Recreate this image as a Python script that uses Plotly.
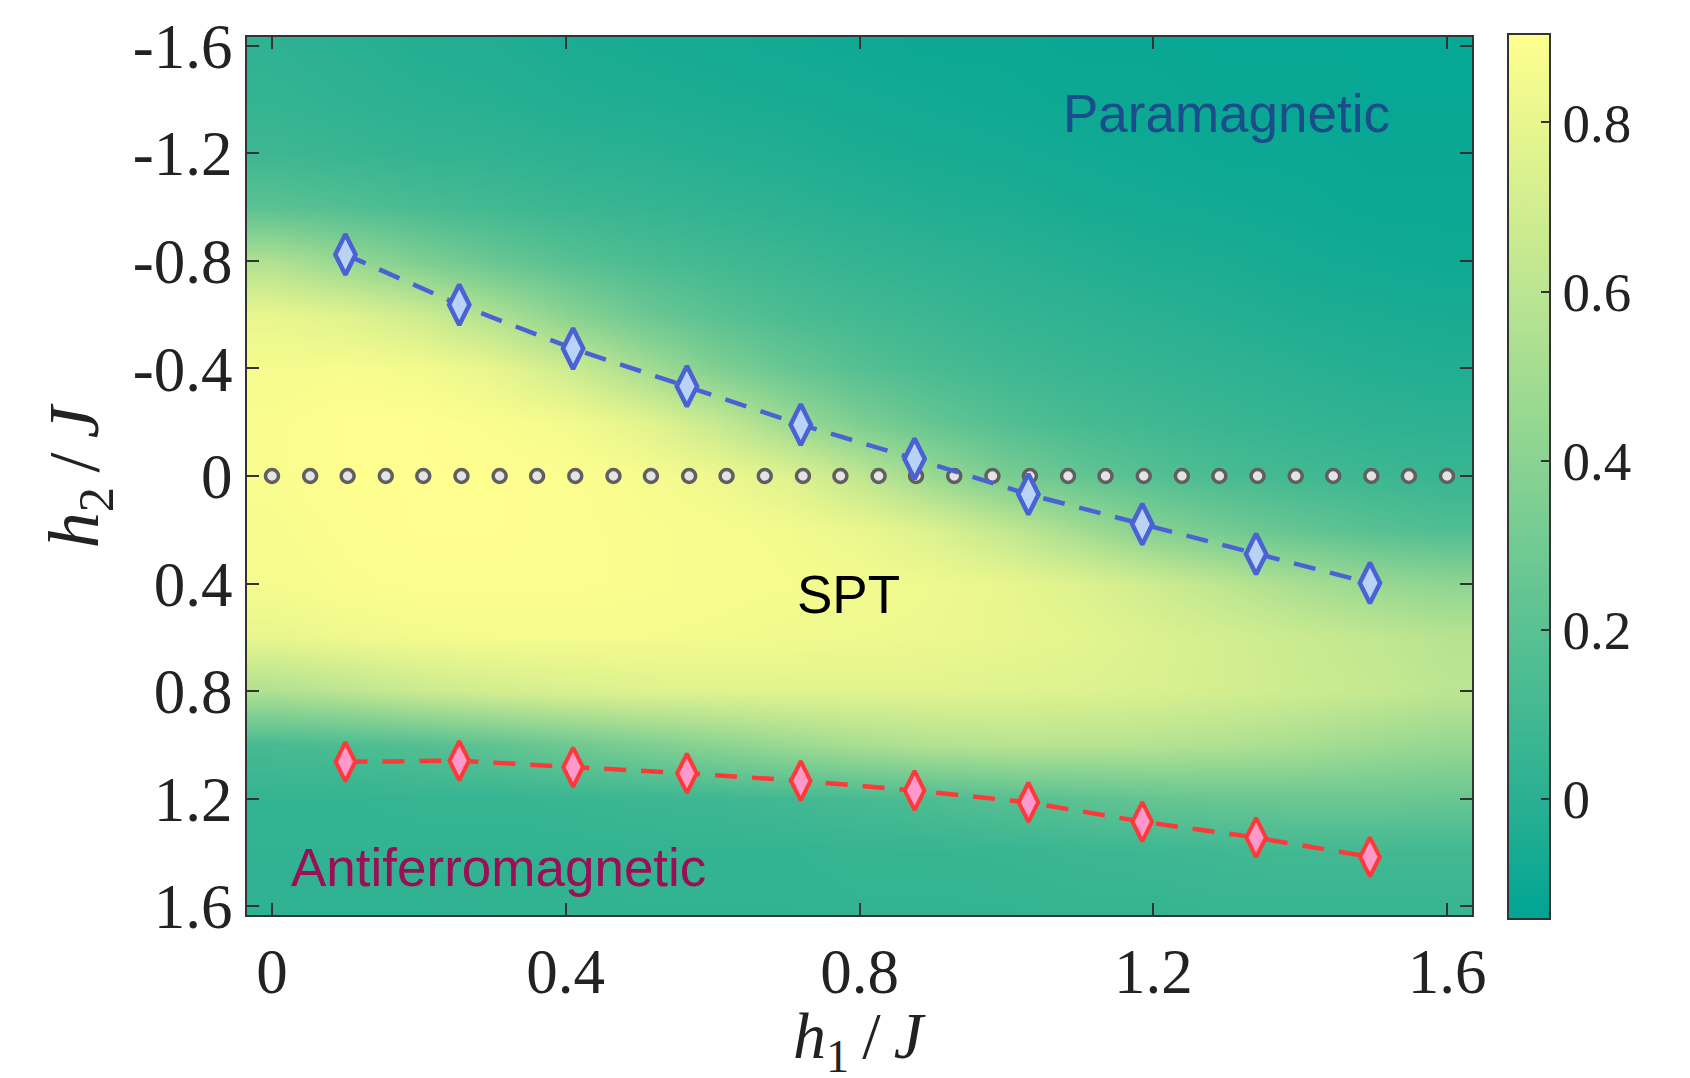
import plotly.graph_objects as go

# ---------------- data ----------------
h1_grid = [0.0, 0.1, 0.2, 0.3, 0.4, 0.5, 0.6, 0.7, 0.8, 0.9, 1.0, 1.1, 1.2, 1.3, 1.4, 1.5, 1.6]
h2_grid = [-1.6, -1.4, -1.2, -1.0, -0.8, -0.6, -0.4, -0.2, 0.0, 0.2, 0.4, 0.6, 0.8, 1.0, 1.2, 1.4, 1.6]

order_param = [
    [0.02, 0.00, -0.02, -0.03, -0.05, -0.06, -0.07, -0.08, -0.09, -0.10, -0.10, -0.11, -0.11, -0.12, -0.12, -0.12, -0.12],
    [0.04, 0.02, 0.00, -0.01, -0.03, -0.04, -0.05, -0.06, -0.07, -0.08, -0.09, -0.10, -0.10, -0.11, -0.11, -0.12, -0.12],
    [0.08, 0.06, 0.04, 0.03, 0.01, 0.00, -0.02, -0.03, -0.05, -0.06, -0.07, -0.08, -0.09, -0.10, -0.10, -0.11, -0.11],
    [0.20, 0.17, 0.13, 0.10, 0.07, 0.05, 0.03, 0.01, -0.01, -0.03, -0.04, -0.06, -0.07, -0.08, -0.09, -0.10, -0.10],
    [0.55, 0.45, 0.35, 0.26, 0.19, 0.14, 0.10, 0.07, 0.04, 0.02, 0.00, -0.02, -0.04, -0.05, -0.07, -0.08, -0.09],
    [0.80, 0.76, 0.68, 0.55, 0.40, 0.28, 0.20, 0.14, 0.10, 0.07, 0.04, 0.02, 0.00, -0.02, -0.04, -0.05, -0.06],
    [0.86, 0.87, 0.85, 0.80, 0.68, 0.52, 0.36, 0.26, 0.18, 0.13, 0.09, 0.06, 0.04, 0.02, 0.00, -0.02, -0.03],
    [0.88, 0.90, 0.90, 0.88, 0.85, 0.78, 0.65, 0.48, 0.34, 0.24, 0.17, 0.12, 0.09, 0.06, 0.04, 0.02, 0.01],
    [0.88, 0.90, 0.90, 0.90, 0.89, 0.87, 0.83, 0.76, 0.62, 0.46, 0.33, 0.24, 0.18, 0.13, 0.10, 0.08, 0.06],
    [0.87, 0.89, 0.90, 0.90, 0.89, 0.88, 0.87, 0.85, 0.81, 0.74, 0.63, 0.50, 0.38, 0.30, 0.24, 0.19, 0.16],
    [0.86, 0.88, 0.89, 0.89, 0.89, 0.88, 0.87, 0.86, 0.85, 0.83, 0.80, 0.75, 0.68, 0.60, 0.52, 0.46, 0.42],
    [0.80, 0.83, 0.85, 0.86, 0.86, 0.86, 0.85, 0.84, 0.83, 0.82, 0.80, 0.78, 0.74, 0.70, 0.66, 0.62, 0.58],
    [0.55, 0.60, 0.66, 0.70, 0.73, 0.75, 0.76, 0.77, 0.77, 0.77, 0.76, 0.75, 0.73, 0.70, 0.67, 0.64, 0.60],
    [0.12, 0.14, 0.17, 0.22, 0.28, 0.34, 0.40, 0.46, 0.52, 0.56, 0.58, 0.58, 0.57, 0.55, 0.52, 0.48, 0.45],
    [0.04, 0.04, 0.05, 0.05, 0.06, 0.07, 0.08, 0.10, 0.12, 0.15, 0.18, 0.21, 0.24, 0.26, 0.27, 0.27, 0.26],
    [0.03, 0.03, 0.03, 0.03, 0.03, 0.04, 0.04, 0.04, 0.05, 0.05, 0.06, 0.07, 0.08, 0.09, 0.10, 0.10, 0.10],
    [0.02, 0.02, 0.02, 0.03, 0.03, 0.03, 0.03, 0.03, 0.04, 0.04, 0.04, 0.05, 0.05, 0.06, 0.06, 0.06, 0.06],
]

upper_h1 = [0.1, 0.255, 0.41, 0.565, 0.72, 0.875, 1.03, 1.185, 1.34, 1.495]
upper_h2 = [-0.824, -0.637, -0.474, -0.334, -0.191, -0.064, 0.068, 0.179, 0.290, 0.398]

lower_h1 = [0.1, 0.255, 0.41, 0.565, 0.72, 0.875, 1.03, 1.185, 1.34, 1.495]
lower_h2 = [1.063, 1.059, 1.083, 1.106, 1.134, 1.170, 1.214, 1.286, 1.345, 1.417]

dots_h1 = [0.0, 0.052, 0.103, 0.155, 0.206, 0.258, 0.310, 0.361, 0.413, 0.465, 0.516,
           0.568, 0.619, 0.671, 0.723, 0.774, 0.826, 0.877, 0.929, 0.981, 1.032, 1.084,
           1.135, 1.187, 1.239, 1.290, 1.342, 1.394, 1.445, 1.497, 1.548, 1.600]
dots_h2 = [0.0] * len(dots_h1)

axis_ticks = [-1.6, -1.2, -0.8, -0.4, 0.0, 0.4, 0.8, 1.2, 1.6]
y_tick_text = ["-1.6", "-1.2", "-0.8", "-0.4", "0", "0.4", "0.8", "1.2", "1.6"]
x_ticks = [0.0, 0.4, 0.8, 1.2, 1.6]
x_tick_text = ["0", "0.4", "0.8", "1.2", "1.6"]
cb_ticks = [0.0, 0.2, 0.4, 0.6, 0.8]
cb_tick_text = ["0", "0.2", "0.4", "0.6", "0.8"]

ZMIN, ZMAX = -0.141, 0.905

def norm(v):
    return (v - ZMIN) / (ZMAX - ZMIN)

colorscale = [
    [0.0, "rgb(0,165,148)"],
    [norm(0.0), "rgb(42,176,146)"],
    [norm(0.2), "rgb(90,193,146)"],
    [norm(0.4), "rgb(138,211,146)"],
    [norm(0.6), "rgb(188,229,145)"],
    [norm(0.8), "rgb(232,246,142)"],
    [1.0, "rgb(255,255,142)"],
]

SERIF = "Liberation Serif, DejaVu Serif, serif"
SANS = "Liberation Sans, Arial, sans-serif"

fig = go.Figure()

fig.add_trace(go.Heatmap(
    x=h1_grid, y=h2_grid, z=order_param,
    zmin=ZMIN, zmax=ZMAX, zsmooth="best",
    colorscale=colorscale,
    colorbar=dict(
        x=1.0294, xanchor="left", xref="paper",
        y=0.5, yanchor="middle", len=885, lenmode="pixels",
        thickness=42, thicknessmode="pixels",
        outlinecolor="#333333", outlinewidth=2,
        ticks="inside", ticklen=10, tickwidth=1.5, tickcolor="#333333",
        tickvals=cb_ticks, ticktext=cb_tick_text,
        tickfont=dict(family=SERIF, size=55, color="#222222"),
        xpad=0, ypad=0,
    ),
    hoverinfo="skip",
))

fig.add_trace(go.Scatter(
    x=dots_h1, y=dots_h2, mode="markers",
    marker=dict(symbol="circle", size=13, color="#e4e4e4",
                line=dict(color="#5f5f5f", width=3.5)),
    showlegend=False,
))

fig.add_trace(go.Scatter(
    x=upper_h1, y=upper_h2, mode="lines+markers",
    line=dict(color="#4a62d4", width=4.5, dash="22px,15px"),
    marker=dict(symbol="diamond-tall", size=29, color="#b9d3f6",
                line=dict(color="#4a62d4", width=4.5)),
    showlegend=False,
))

fig.add_trace(go.Scatter(
    x=lower_h1, y=lower_h2, mode="lines+markers",
    line=dict(color="#ff3838", width=4.5, dash="22px,15px"),
    marker=dict(symbol="diamond-tall", size=28, color="#ff99cc",
                line=dict(color="#ff3838", width=4)),
    showlegend=False,
))

fig.update_layout(
    width=1690, height=1078,
    margin=dict(l=247, r=218, t=30, b=163),
    paper_bgcolor="white", plot_bgcolor="white",
    showlegend=False,
    xaxis=dict(
        range=[-0.034, 1.634],
        tickvals=x_ticks, ticktext=x_tick_text,
        ticks="inside", ticklen=12, tickwidth=1.5, tickcolor="#333333",
        showline=True, linecolor="#333333", linewidth=2, mirror="ticks",
        showgrid=False, zeroline=False,
        tickfont=dict(family=SERIF, size=63, color="#222222"),
    ),
    yaxis=dict(
        range=[1.633, -1.633],
        tickvals=axis_ticks, ticktext=y_tick_text,
        ticks="inside", ticklen=12, tickwidth=1.5, tickcolor="#333333",
        showline=True, linecolor="#333333", linewidth=2, mirror="ticks",
        showgrid=False, zeroline=False,
        tickfont=dict(family=SERIF, size=63, color="#222222"),
    ),
    annotations=[
        dict(x=0.5, xref="paper", y=-0.143, yref="paper",
             text="<i>h</i><sub>1</sub>\u2009/\u2009<i>J</i>", showarrow=False,
             font=dict(family=SERIF, size=66, color="#222222"),
             xanchor="center", yanchor="middle"),
        dict(text="<i>h</i><sub>2</sub>\u2009/\u2009<i>J</i>", showarrow=False,
             xref="paper", yref="paper", x=-0.137, y=0.5, textangle=-90,
             font=dict(family=SERIF, size=72, color="#222222"),
             xanchor="center", yanchor="middle"),
        dict(x=1.30, y=-1.35, xref="x", yref="y", text="Paramagnetic", showarrow=False,
             font=dict(family=SANS, size=53, color="#1b4c8c"),
             xanchor="center", yanchor="middle"),
        dict(x=0.785, y=0.44, xref="x", yref="y", text="SPT", showarrow=False,
             font=dict(family=SANS, size=53, color="#000000"),
             xanchor="center", yanchor="middle"),
        dict(x=0.308, y=1.455, xref="x", yref="y", text="Antiferromagnetic", showarrow=False,
             font=dict(family=SANS, size=53, color="#9a0f55"),
             xanchor="center", yanchor="middle"),
    ],
)

fig.write_html("out.html")
